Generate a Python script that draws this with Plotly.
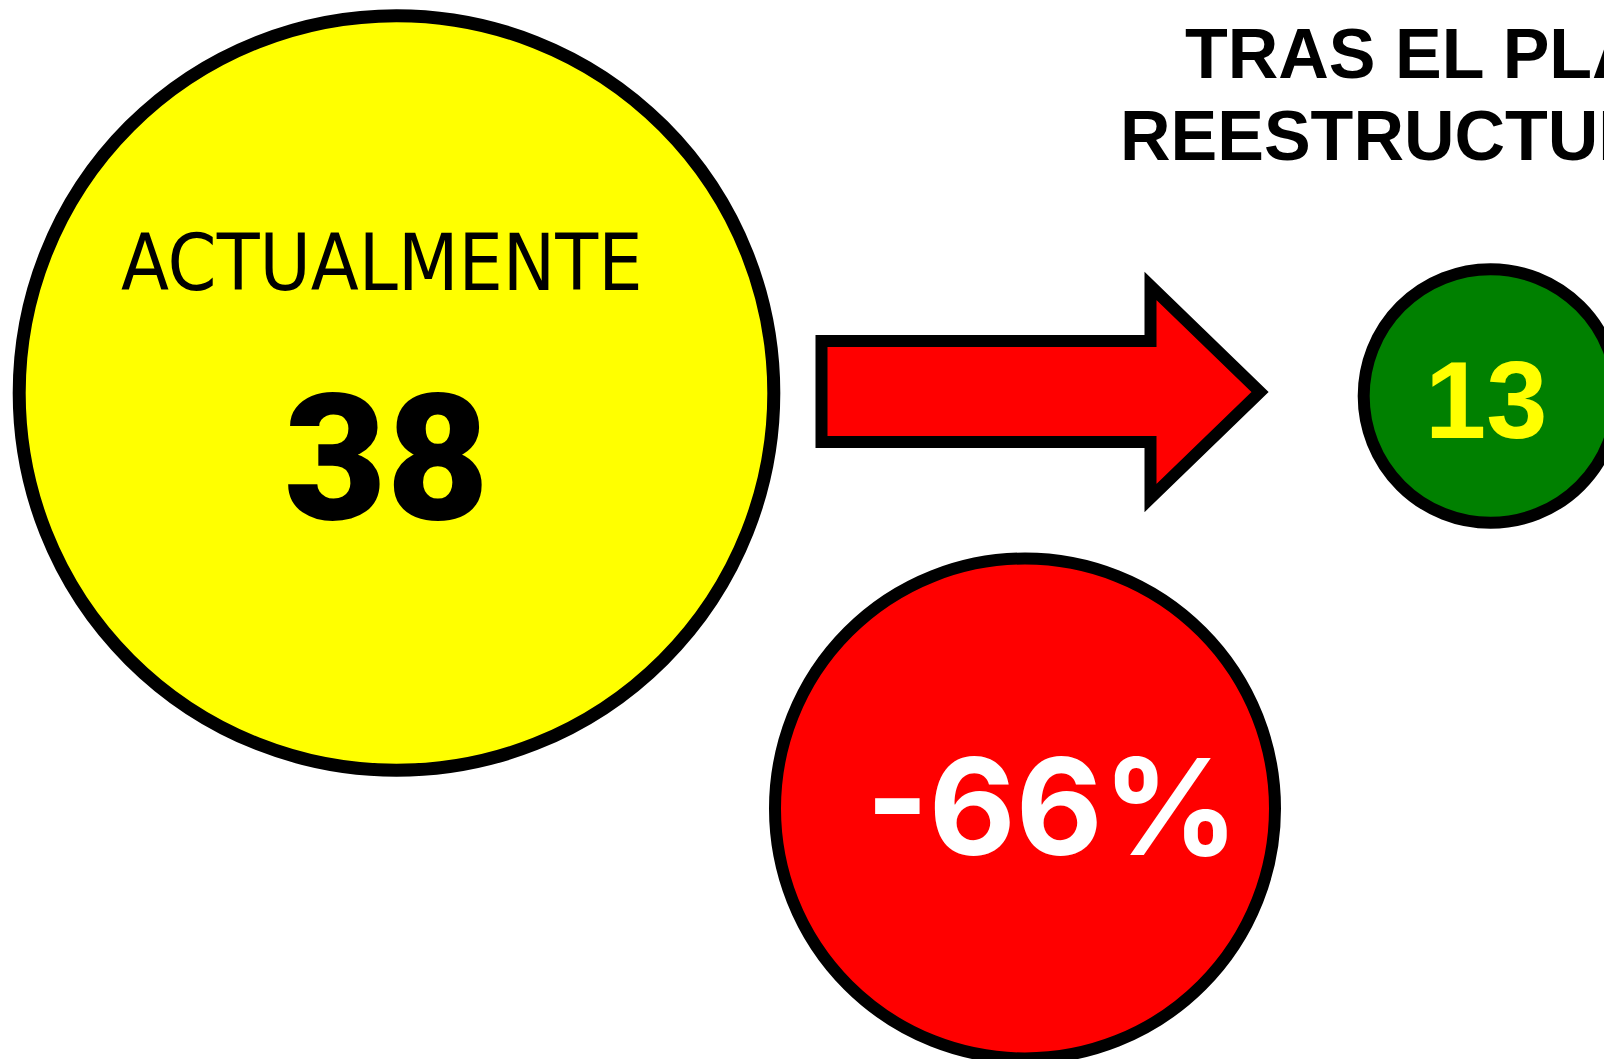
import plotly.graph_objects as go

# ---- data ----
labels = ["ACTUALMENTE", "TRAS EL PLAN DE", "REESTRUCTURACIÓN"]
values = [38, 13]
change_label = "-66%"

W, H = 1604, 1059
PX_PER_UNIT = 10.1  # circle outer radius per unit of value
BORDER = 13

fig = go.Figure()
fig.add_trace(go.Scatter(x=[0, W], y=[0, H], mode="markers",
                         marker=dict(opacity=0), hoverinfo="skip", showlegend=False))

def circle(cx, cy, r_outer, fill, bw=BORDER):
    r = r_outer - bw / 2
    fig.add_shape(type="circle", xref="x", yref="y",
                  x0=cx - r, x1=cx + r, y0=cy - r, y1=cy + r,
                  fillcolor=fill, line=dict(color="black", width=bw), layer="above")

# yellow (current)
circle(396.5, 393, values[0] * PX_PER_UNIT, "#FFFF00")
# green (after)
circle(1490.5, 396, values[1] * PX_PER_UNIT + 1.5, "#008000", bw=12)
# red (change)
circle(1025, 808.5, 256, "#FF0000", bw=12)

# arrow
ax = [821.5, 1150.5, 1150.5, 1260, 1150.5, 1150.5, 821.5]
ay = [341, 341, 286, 392, 498, 442, 442]
path = "M " + " L ".join(f"{x},{y}" for x, y in zip(ax, ay)) + " Z"
fig.add_shape(type="path", path=path, xref="x", yref="y",
              fillcolor="#FF0000", line=dict(color="black", width=12), layer="above")

# texts
fig.add_annotation(x=381, y=263, text=labels[0], showarrow=False,
                   xanchor="center", yanchor="middle",
                   font=dict(family="DejaVu Sans Condensed, Liberation Sans Narrow, sans-serif", size=78, color="black"))
fig.add_annotation(x=386, y=458, text=str(values[0]), showarrow=False,
                   xanchor="center", yanchor="middle",
                   font=dict(family="Roboto, Liberation Sans, sans-serif", size=177, weight=900, color="black"))
fig.add_annotation(x=1497, y=54, text=f"<b>{labels[1]}</b>", showarrow=False,
                   xanchor="center", yanchor="middle",
                   font=dict(family="Liberation Sans, Arial, sans-serif", size=70, color="black"))
fig.add_annotation(x=1497, y=136, text=f"<b>{labels[2]}</b>", showarrow=False,
                   xanchor="center", yanchor="middle",
                   font=dict(family="Liberation Sans, Arial, sans-serif", size=70, color="black"))
fig.add_annotation(x=1486, y=399, text=f"<b>{values[1]}</b>", showarrow=False,
                   xanchor="center", yanchor="middle",
                   font=dict(family="Liberation Sans, Arial, sans-serif", size=110, color="#FFFF00"))
fig.add_annotation(x=1052, y=806, text=f"<b>{change_label}</b>", showarrow=False,
                   xanchor="center", yanchor="middle",
                   font=dict(family="Inter, sans-serif", size=134, color="white"))

fig.update_layout(
    width=W, height=H, margin=dict(l=0, r=0, t=0, b=0),
    paper_bgcolor="white", plot_bgcolor="white", showlegend=False,
    xaxis=dict(range=[0, W], visible=False, fixedrange=True),
    yaxis=dict(range=[H, 0], visible=False, fixedrange=True),
)
fig.write_html("out.html", config={"displayModeBar": False},
               post_script="document.body.style.margin='0';document.body.style.overflow='hidden';")
